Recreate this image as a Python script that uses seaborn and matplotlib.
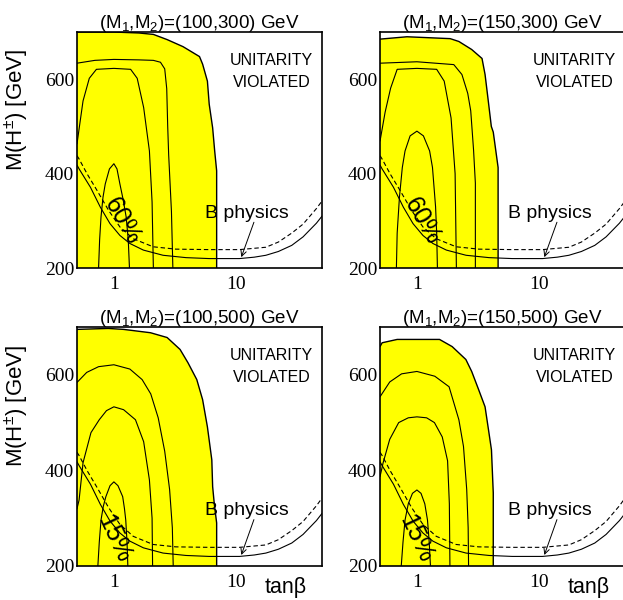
import matplotlib
matplotlib.use("Agg")
import matplotlib.pyplot as plt
from matplotlib.ticker import NullFormatter
import seaborn as sns

sns.set_style("white", {"axes.edgecolor": "black", "text.color": "black",
                        "xtick.color": "black", "ytick.color": "black",
                        "axes.labelcolor": "black"})
plt.rcParams['font.family'] = ['Liberation Sans', 'DejaVu Sans']
plt.rcParams['mathtext.fontset'] = 'custom'
plt.rcParams['mathtext.rm'] = 'Liberation Sans'
plt.rcParams['mathtext.it'] = 'Liberation Sans:italic'

# ---- data (tanb, M(H+-) in GeV) ----
titles = ["(M$_1$,M$_2$)=(100,300) GeV", "(M$_1$,M$_2$)=(150,300) GeV",
          "(M$_1$,M$_2$)=(100,500) GeV", "(M$_1$,M$_2$)=(150,500) GeV"]

# unitarity-allowed region, upper/right edge (yellow)
allowed_tl_t = [0.5, 1.0, 1.6, 2.1, 2.72, 3.67, 5.0, 5.3, 5.8, 6.0, 6.4, 6.65, 6.9, 6.9]
allowed_tl_M = [700, 700, 698, 695, 684, 669, 648, 632, 596, 547, 497, 448, 406, 200]
allowed_tr_t = [0.5, 0.83, 1.87, 2.2, 2.8, 3.4, 3.6, 3.8, 4.05, 4.2, 4.6, 4.6]
allowed_tr_M = [685, 690, 686, 680, 663, 644, 610, 560, 500, 488, 413, 200]
allowed_bl_t = [0.5, 0.9, 1.2, 1.99, 2.72, 3.47, 4.03, 4.75, 5.3, 5.8, 6.3, 6.4, 6.6, 6.9, 6.9]
allowed_bl_M = [695, 697, 695, 688, 678, 653, 625, 590, 548, 491, 422, 366, 330, 290, 200]
allowed_br_t = [0.5, 0.52, 0.69, 1.53, 1.94, 2.51, 2.8, 3.19, 3.6, 3.84, 4.06, 4.2, 4.2]
allowed_br_M = [659, 667, 674, 674, 659, 632, 607, 569, 533, 485, 443, 353, 200]

# percentage contours
tl_c1_t = [0.75, 0.765, 0.785, 0.815, 0.85, 0.92, 1.0, 1.06, 1.12, 1.19, 1.26, 1.31, 1.34]
tl_c1_M = [200, 260, 308, 350, 378, 410, 421, 410, 378, 345, 308, 260, 200]
tl_c2_t = [0.5, 0.53, 0.56, 0.63, 0.72, 1.0, 1.37, 1.55, 1.75, 1.95, 2.05, 2.1]
tl_c2_M = [463, 510, 554, 602, 621, 623, 621, 602, 540, 448, 340, 200]
tl_c3_t = [0.5, 0.7, 1.0, 1.6, 2.1, 2.4, 2.6, 2.7, 2.75, 2.8, 2.95, 3.03]
tl_c3_M = [634, 640, 642, 641, 640, 636, 622, 580, 500, 440, 320, 200]

tr_c1_t = [0.68, 0.69, 0.72, 0.76, 0.8, 0.88, 1.0, 1.13, 1.27, 1.34, 1.42, 1.45, 1.47]
tr_c1_M = [200, 274, 350, 413, 448, 480, 490, 480, 448, 413, 330, 274, 200]
tr_c2_t = [0.5, 0.55, 0.61, 0.69, 1.0, 1.45, 1.67, 1.9, 2.05, 2.1]
tr_c2_M = [469, 530, 581, 621, 623, 621, 596, 518, 400, 200]
tr_c3_t = [0.5, 1.0, 2.0, 2.33, 2.6, 2.75, 2.9, 3.0, 3.0]
tr_c3_M = [634, 637, 631, 610, 570, 533, 450, 380, 200]

bl_c1_t = [0.74, 0.76, 0.785, 0.82, 0.86, 0.93, 1.0, 1.08, 1.18, 1.22, 1.25, 1.28, 1.30]
bl_c1_M = [200, 250, 296, 325, 345, 368, 376, 368, 345, 320, 296, 250, 200]
bl_c2_t = [0.5, 0.52, 0.56, 0.65, 0.76, 0.87, 1.0, 1.2, 1.5, 1.75, 1.95, 2.05, 2.07]
bl_c2_M = [320, 338, 416, 479, 506, 525, 533, 527, 506, 460, 380, 300, 200]
bl_c3_t = [0.5, 0.6, 0.75, 1.0, 1.35, 1.7, 2.0, 2.3, 2.6, 2.85, 3.0, 3.05]
bl_c3_M = [584, 605, 617, 621, 612, 590, 560, 510, 440, 360, 280, 200]

br_c1_t = [0.745, 0.77, 0.80, 0.85, 0.92, 1.0, 1.08, 1.16, 1.22, 1.26, 1.29]
br_c1_M = [200, 250, 296, 330, 352, 359, 352, 330, 296, 250, 200]
br_c2_t = [0.5, 0.53, 0.6, 0.71, 0.85, 1.0, 1.2, 1.39, 1.61, 1.78, 1.84, 1.86]
br_c2_M = [387, 416, 465, 500, 510, 512, 510, 500, 470, 420, 330, 200]
br_c3_t = [0.5, 0.6, 0.75, 1.0, 1.4, 1.83, 2.2, 2.4, 2.55, 2.62, 2.64]
br_c3_M = [554, 585, 602, 607, 597, 575, 506, 450, 360, 280, 200]

# B physics bounds (same in every panel)
bphys_solid_t = [0.5, 0.52, 0.644, 0.775, 0.93, 1.12, 1.35, 1.74, 2.52, 3.88, 6.0,
                 10.6, 14.0, 17.4, 22.0, 28.3, 35.0, 45.0, 50.0]
bphys_solid_M = [418, 410, 371, 329, 294, 269, 252, 238, 227, 222, 220,
                 220, 223, 227, 235, 248, 266, 295, 310]
bphys_dash_t = [0.5, 0.52, 0.606, 0.73, 0.906, 1.12, 1.44, 2.09, 3.2, 6.0,
                10.6, 17.4, 22.0, 28.3, 35.0, 45.0, 50.0]
bphys_dash_M = [438, 431, 399, 364, 322, 287, 262, 245, 240, 239,
                239, 244, 255, 274, 293, 326, 342]

pct_labels = ["60%", "60%", "15%", "15%"]

x_major = [1, 10]
x_major_labels = ["1", "10"]
x_minor = [0.6, 0.7, 0.8, 0.9, 2, 3, 4, 5, 6, 7, 8, 9, 20, 30, 40]
y_major = [200, 400, 600]
y_major_labels = ["200", "400", "600"]
y_minor = [300, 500]

panels = [
    dict(rect=[0.1236, 0.5533, 0.3933, 0.3933], title=titles[0],
         at=allowed_tl_t, aM=allowed_tl_M,
         cont=[(tl_c1_t, tl_c1_M), (tl_c2_t, tl_c2_M), (tl_c3_t, tl_c3_M)],
         pct=pct_labels[0], ppos=(1.17, 300), prot=-60, ylab=True, xlab=False),
    dict(rect=[0.6100, 0.5533, 0.3933, 0.3933], title=titles[1],
         at=allowed_tr_t, aM=allowed_tr_M,
         cont=[(tr_c1_t, tr_c1_M), (tr_c2_t, tr_c2_M), (tr_c3_t, tr_c3_M)],
         pct=pct_labels[1], ppos=(1.11, 300), prot=-60, ylab=False, xlab=False),
    dict(rect=[0.1236, 0.0567, 0.3933, 0.3983], title=titles[2],
         at=allowed_bl_t, aM=allowed_bl_M,
         cont=[(bl_c1_t, bl_c1_M), (bl_c2_t, bl_c2_M), (bl_c3_t, bl_c3_M)],
         pct=pct_labels[2], ppos=(1.0, 258), prot=-65, ylab=True, xlab=True),
    dict(rect=[0.6100, 0.0567, 0.3933, 0.3983], title=titles[3],
         at=allowed_br_t, aM=allowed_br_M,
         cont=[(br_c1_t, br_c1_M), (br_c2_t, br_c2_M), (br_c3_t, br_c3_M)],
         pct=pct_labels[3], ppos=(0.99, 258), prot=-65, ylab=False, xlab=True),
]

fig = plt.figure(figsize=(6.23, 6.0), dpi=100)

for p in panels:
    ax = fig.add_axes(p["rect"])
    ax.set_xscale("log")

    # yellow allowed region
    ax.fill([0.5] + p["at"], [200] + p["aM"], color="#ffff00", lw=0, zorder=1)
    sns.lineplot(x=p["at"], y=p["aM"], ax=ax, color="black", lw=1.0,
                 sort=False, estimator=None, zorder=2)

    for ct, cM in p["cont"]:
        sns.lineplot(x=ct, y=cM, ax=ax, color="black", lw=0.8,
                     sort=False, estimator=None, zorder=3)

    sns.lineplot(x=bphys_solid_t, y=bphys_solid_M, ax=ax, color="black", lw=0.8,
                 sort=False, estimator=None, zorder=3)
    sns.lineplot(x=bphys_dash_t, y=bphys_dash_M, ax=ax, color="black", lw=0.8,
                 linestyle=(0, (4, 2.5)), sort=False, estimator=None, zorder=3)

    ax.text(p["ppos"][0], p["ppos"][1], p["pct"], rotation=p["prot"],
            ha="center", va="center", fontsize=18, rotation_mode="anchor", zorder=4)
    ax.text(19.3, 617, "UNITARITY\nVIOLATED", ha="center", va="center",
            fontsize=11.5, linespacing=1.55, zorder=4)
    ax.text(12.2, 316, "B physics", ha="center", va="center", fontsize=14, zorder=4)
    ax.annotate("", xy=(10.97, 223), xytext=(13.9, 297),
                arrowprops=dict(arrowstyle="->", lw=0.7, color="black",
                                shrinkA=0, shrinkB=0), zorder=4)

    ax.set_xlim(0.5, 50)
    ax.set_ylim(200, 700)
    ax.set_xticks(x_major, labels=x_major_labels, fontfamily="Liberation Serif", fontsize=14)
    ax.set_xticks(x_minor, minor=True)
    ax.xaxis.set_minor_formatter(NullFormatter())
    ax.set_yticks(y_major, labels=y_major_labels, fontfamily="Liberation Serif", fontsize=14)
    ax.set_yticks(y_minor, minor=True)
    ax.tick_params(axis="x", which="major", direction="in", length=6, width=0.8, pad=6)
    ax.tick_params(axis="x", which="minor", direction="in", length=3.5, width=0.8)
    ax.tick_params(axis="y", which="major", direction="in", length=13, width=0.8, pad=2)
    ax.tick_params(axis="y", which="minor", direction="in", length=6, width=0.8)
    for s in ax.spines.values():
        s.set_linewidth(1.2)
        s.set_zorder(5)

    ax.set_title(p["title"], fontsize=13.5, pad=3)
    if p["ylab"]:
        ax.set_ylabel("M(H$^{\\pm}$) [GeV]", fontsize=16, va="center")
        ax.yaxis.set_label_coords(-0.245, 0.67)
    else:
        ax.set_ylabel("")
    if p["xlab"]:
        ax.set_xlabel("tanβ", fontsize=15.5, va="center")
        ax.xaxis.set_label_coords(0.85, -0.09)
    else:
        ax.set_xlabel("")

fig.savefig("out.png", dpi=100)
